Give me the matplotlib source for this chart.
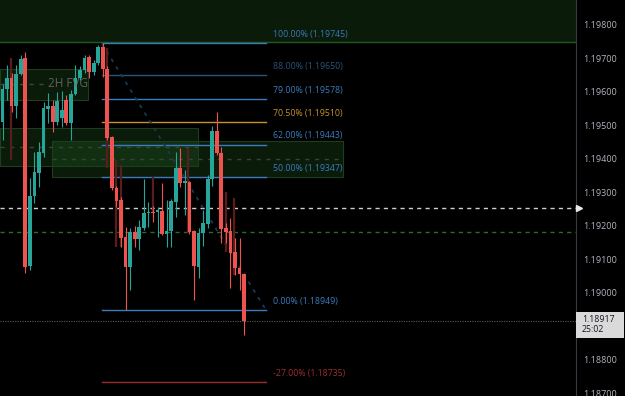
import numpy as np
import matplotlib.pyplot as plt
import matplotlib.transforms as mtransforms
from matplotlib.patches import Rectangle

plt.rcParams['font.family'] = ['Open Sans', 'DejaVu Sans']

# candles (price)
opens = [1.19510, 1.19609, 1.19642, 1.19558, 1.19654, 1.19702, 1.19081, 1.19290, 1.19358, 1.19418,
         1.19549, 1.19558, 1.19510, 1.19522, 1.19576, 1.19507, 1.19594, 1.19642, 1.19666, 1.19705,
         1.19660, 1.19687, 1.19734, 1.19669, 1.19466, 1.19313, 1.19278, 1.19167, 1.19078, 1.19182,
         1.19161, 1.19194, 1.19239, 1.19242, 1.19242, 1.19245, 1.19176, 1.19185, 1.19272, 1.19373,
         1.19328, 1.19331, 1.19185, 1.19078, 1.19179, 1.19206, 1.19340, 1.19484, 1.19418, 1.19194,
         1.19185, 1.19122, 1.19075, 1.19057]
highs = [1.19624, 1.19681, 1.19657, 1.19681, 1.19710, 1.19719, 1.19343, 1.19421, 1.19451, 1.19570,
         1.19597, 1.19576, 1.19600, 1.19603, 1.19591, 1.19606, 1.19681, 1.19678, 1.19710, 1.19710,
         1.19696, 1.19740, 1.19745, 1.19678, 1.19469, 1.19320, 1.19287, 1.19197, 1.19194, 1.19200,
         1.19218, 1.19340, 1.19272, 1.19260, 1.19257, 1.19328, 1.19278, 1.19281, 1.19421, 1.19433,
         1.19367, 1.19334, 1.19188, 1.19194, 1.19248, 1.19352, 1.19499, 1.19540, 1.19436, 1.19209,
         1.19224, 1.19164, 1.19164, 1.19060]
lows = [1.19457, 1.19576, 1.19540, 1.19522, 1.19651, 1.19060, 1.19069, 1.19269, 1.19316, 1.19406,
        1.19507, 1.19481, 1.19501, 1.19496, 1.19501, 1.19457, 1.19591, 1.19636, 1.19657, 1.19642,
        1.19651, 1.19681, 1.19645, 1.19457, 1.19307, 1.19257, 1.19137, 1.18949, 1.19009, 1.19137,
        1.19128, 1.19188, 1.19197, 1.19212, 1.19167, 1.19173, 1.19137, 1.19137, 1.19227, 1.19316,
        1.19233, 1.19176, 1.18979, 1.19045, 1.19140, 1.19194, 1.19319, 1.19412, 1.19149, 1.19149,
        1.19015, 1.19054, 1.19009, 1.18875]
closes = [1.19609, 1.19642, 1.19558, 1.19654, 1.19699, 1.19078, 1.19290, 1.19361, 1.19421, 1.19552,
          1.19558, 1.19510, 1.19573, 1.19546, 1.19507, 1.19594, 1.19642, 1.19666, 1.19702, 1.19660,
          1.19687, 1.19734, 1.19669, 1.19463, 1.19313, 1.19275, 1.19164, 1.19078, 1.19182, 1.19161,
          1.19197, 1.19239, 1.19242, 1.19238, 1.19248, 1.19176, 1.19185, 1.19275, 1.19373, 1.19328,
          1.19334, 1.19182, 1.19081, 1.19179, 1.19209, 1.19340, 1.19484, 1.19418, 1.19191, 1.19182,
          1.19119, 1.19075, 1.19057, 1.18917]

# faint candles of the other series behind
ov_x = [1.9, 22.9, 24.9, 26.0, 33.0, 40.7, 49.0, 50.8]
ov_hi = [1.19702, 1.19732, 1.19397, 1.19382, 1.19346, 1.19433, 1.19302, 1.19284]
ov_lo = [1.19397, 1.19373, 1.19137, 1.19137, 1.19239, 1.19179, 1.19122, 1.19054]

# fib retracement
fib_pct = ["100.00%", "88.00%", "79.00%", "70.50%", "62.00%", "50.00%", "0.00%", "-27.00%"]
fib_price = [1.19745, 1.19650, 1.19578, 1.19510, 1.19443, 1.19347, 1.18949, 1.18735]
fib_col = ["#3b78b4", "#2a5478", "#3b7cc0", "#c8922a", "#3b7cc0", "#3b7cc0", "#3b7cc0", "#9a2e2e"]
fib_start, fib_end = 21.8, 57.8

# zones: (x0, x1, bottom, top, mid)
zones = [(-0.55, 18.75, 1.19576, 1.19669, 1.19624),
         (-0.55, 42.9, 1.19379, 1.19492, 1.19436),
         (10.9, 74.7, 1.19346, 1.19454, 1.19400)]
top_zone = 1.19748

line_white = 1.19254
line_green = 1.19182
# 1.18900 sits under the last price tag
y_ticks = [1.187, 1.188, 1.190, 1.191, 1.192, 1.193, 1.194, 1.195, 1.196, 1.197, 1.198]

xmin, xmax = -0.55, 125.8
ymin, ymax = 1.186925, 1.198746

fig = plt.figure(figsize=(6.25, 3.96), dpi=100, facecolor='black')
ax = fig.add_axes([0, 0, 576 / 625, 1])
ax.set_facecolor('black')
ax.set_xlim(xmin, xmax)
ax.set_ylim(ymin, ymax)

# zones
ax.add_patch(Rectangle((xmin, top_zone), xmax - xmin, ymax - top_zone,
                       facecolor='#2e7d32', alpha=0.22, edgecolor='none', zorder=0))
ax.axhline(top_zone, color='#1f5a24', lw=1, zorder=0.5)
for x0, x1, b, t, m in zones:
    ax.add_patch(Rectangle((x0, b), x1 - x0, t - b, facecolor='#2e7d32', alpha=0.22,
                           edgecolor='none', zorder=0))
    ax.add_patch(Rectangle((x0, b), x1 - x0, t - b, facecolor='none',
                           edgecolor='#1d3d20', lw=0.8, zorder=0.5))
ax.plot([zones[0][0], 9.2], [zones[0][4]] * 2, color='#3d463f', lw=1, dashes=(3, 4), zorder=0.6)
for x0, x1, b, t, m in zones[1:]:
    ax.plot([x0, x1], [m, m], color='#3a423b', lw=1, dashes=(3, 4), zorder=0.6)
ax.text(10.0, zones[0][4], "2H FVG", color='#6a706b', fontsize=8.5, va='center', ha='left',
        alpha=0.85, zorder=5)

# horizontal lines
ax.axhline(line_white, color='#d0d0d0', lw=1, dashes=(3, 3), zorder=1)
ax.axhline(line_green, color='#2a6b2e', lw=1, dashes=(3, 3), zorder=1)
ax.axhline(closes[-1], color='#5a5a5a', lw=0.8, dashes=(1, 1.2), zorder=1)

# fib
for pct, p, c in zip(fib_pct, fib_price, fib_col):
    ax.plot([fib_start, fib_end], [p, p], color=c, lw=1, zorder=1.5)
    ax.annotate(f"{pct} ({p:.5f})", xy=(fib_end + 1.5, p), xytext=(0, 3),
                textcoords='offset points', color=c, fontsize=6.3, va='bottom', ha='left')
ax.plot([fib_start, fib_end], [fib_price[0], fib_price[6]], color='#173a52', lw=1.3,
        dashes=(2, 3), zorder=1.6)

# other series
for x, h, l in zip(ov_x, ov_hi, ov_lo):
    ax.vlines(x, l, h, color='#5a1d1d', lw=1.6, zorder=2)

# candles
idx = np.arange(len(opens))
o = np.array(opens); c = np.array(closes)
up = c >= o
col = np.where(up, '#26a69a', '#ef5350')
ax.vlines(idx, lows, highs, color=col, lw=0.8, zorder=3)
body = np.maximum(np.abs(c - o), 0.00001)
ax.bar(idx, body, bottom=np.minimum(o, c), width=0.82, color=col, zorder=4)

# price axis
ax.yaxis.tick_right()
ax.set_yticks(y_ticks)
ax.set_yticklabels([f"{t:.5f}" for t in y_ticks])
ax.tick_params(axis='y', length=0, pad=5, labelsize=6.5, labelcolor='#b2b5be')
ax.set_xticks([])
for s in ['top', 'left', 'bottom']:
    ax.spines[s].set_visible(False)
ax.spines['right'].set_color('#363a45')

trans = mtransforms.blended_transform_factory(ax.transAxes, ax.transData)
ax.plot(1.006, line_white, marker='>', ms=5, color='#e8e8e8', transform=trans, clip_on=False, zorder=6)

# last price tag
ax.add_patch(Rectangle((1.0, closes[-1] - 0.00050), 48 / 576, 0.00075, transform=trans,
                       facecolor='#dadada', edgecolor='none', clip_on=False, zorder=6))
ax.text(1.0 + 6 / 576, closes[-1] - 0.00012, f"{closes[-1]:.5f}\n25:02", transform=trans,
        color='#131722', fontsize=6.3, va='center', ha='left', linespacing=1.15, zorder=7)

fig.savefig('out.png', dpi=100, facecolor='black')
